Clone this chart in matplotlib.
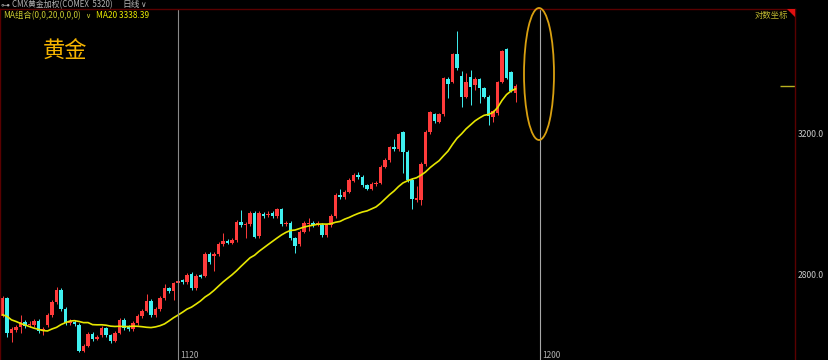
import matplotlib.pyplot as plt
import pandas as pd
from matplotlib.patches import Ellipse, Polygon

plt.rcParams['font.family'] = ['Noto Sans CJK SC', 'DejaVu Sans']

# daily candles (price units)
opens = [2691, 2737, 2648, 2655, 2663, 2676, 2668, 2668, 2678, 2655,
         2668, 2694, 2726, 2758, 2709, 2673, 2676, 2668, 2604, 2616,
         2645, 2634, 2642, 2660, 2642, 2629, 2649, 2681, 2664, 2658,
         2673, 2691, 2704, 2729, 2694, 2708, 2738, 2762, 2755, 2776,
         2784, 2778, 2799, 2764, 2797, 2796, 2853, 2848, 2854, 2880,
         2890, 2884, 2892, 2942, 2933, 2936, 2966, 2903, 2963, 2960,
         2966, 2958, 2977, 2936, 2939, 2896, 2881, 2914, 2936, 2939,
         2934, 2933, 2905, 2933, 2958, 3018, 3011, 3027, 3059, 3075,
         3070, 3046, 3036, 3049, 3053, 3100, 3119, 3157, 3152, 3202,
         3144, 3061, 3003, 3003, 3108, 3203, 3257, 3235, 3257, 3368,
         3359, 3448, 3378, 3312, 3373, 3349, 3367, 3338, 3312, 3249,
         3260, 3359, 3464, 3389, 3325]
closes = [2737, 2648, 2658, 2663, 2676, 2666, 2671, 2678, 2653, 2659,
          2694, 2726, 2758, 2709, 2673, 2678, 2671, 2604, 2616, 2645,
          2633, 2638, 2660, 2642, 2629, 2649, 2681, 2660, 2659, 2674,
          2691, 2704, 2729, 2694, 2708, 2738, 2762, 2755, 2776, 2782,
          2778, 2797, 2764, 2796, 2793, 2853, 2833, 2854, 2880, 2890,
          2884, 2892, 2942, 2933, 2936, 2966, 2901, 2966, 2958, 2965,
          2958, 2977, 2936, 2939, 2896, 2876, 2914, 2939, 2939, 2933,
          2938, 2905, 2933, 2958, 3018, 3011, 3027, 3061, 3075, 3070,
          3046, 3036, 3049, 3053, 3100, 3119, 3157, 3152, 3196, 3144,
          3061, 3005, 3009, 3108, 3204, 3263, 3238, 3257, 3370, 3351,
          3448, 3402, 3312, 3357, 3342, 3367, 3338, 3312, 3252, 3267,
          3357, 3458, 3372, 3331, 3346]
highs = [2742, 2741, 2662, 2668, 2693, 2681, 2678, 2684, 2683, 2664,
         2698, 2731, 2766, 2763, 2714, 2684, 2680, 2673, 2620, 2650,
         2651, 2642, 2665, 2664, 2646, 2653, 2686, 2686, 2668, 2678,
         2696, 2709, 2748, 2734, 2713, 2743, 2774, 2767, 2780, 2787,
         2788, 2803, 2805, 2800, 2801, 2858, 2858, 2858, 2885, 2911,
         2894, 2896, 2947, 2975, 2941, 2971, 2971, 2972, 2970, 2972,
         2972, 2982, 2981, 2944, 2944, 2900, 2919, 2944, 2953, 2944,
         2943, 2938, 2937, 2963, 3023, 3035, 3032, 3066, 3080, 3084,
         3075, 3050, 3054, 3058, 3105, 3124, 3162, 3182, 3201, 3206,
         3149, 3066, 3043, 3112, 3209, 3268, 3262, 3262, 3376, 3373,
         3453, 3524, 3394, 3386, 3397, 3375, 3372, 3343, 3317, 3272,
         3362, 3463, 3469, 3394, 3351]
lows = [2688, 2638, 2625, 2651, 2648, 2660, 2662, 2663, 2648, 2643,
        2662, 2689, 2722, 2703, 2668, 2668, 2666, 2600, 2600, 2612,
        2628, 2630, 2637, 2637, 2624, 2625, 2645, 2655, 2654, 2652,
        2669, 2687, 2700, 2689, 2689, 2703, 2733, 2750, 2732, 2771,
        2773, 2773, 2758, 2759, 2789, 2791, 2828, 2808, 2849, 2875,
        2880, 2880, 2887, 2928, 2897, 2931, 2896, 2898, 2953, 2955,
        2952, 2953, 2931, 2931, 2891, 2856, 2876, 2910, 2916, 2928,
        2929, 2900, 2900, 2928, 2953, 3006, 3006, 3022, 3054, 3065,
        3041, 3031, 3031, 3044, 3048, 3095, 3114, 3147, 3147, 3081,
        3056, 2978, 2998, 2989, 3103, 3198, 3232, 3230, 3252, 3308,
        3355, 3396, 3281, 3307, 3285, 3333, 3291, 3307, 3224, 3233,
        3255, 3354, 3367, 3326, 3295]
# MA20 values for the first 19 bars (need history before the window)
ma_head = [2694, 2690, 2681, 2677, 2672, 2668, 2664, 2660, 2657, 2654,
           2653, 2658, 2662, 2669, 2674, 2678, 2679, 2677, 2674]
y_ticks = [2800, 3200]
x_labels = ["1120", "1200"]

df = pd.DataFrame({"open": opens, "high": highs, "low": lows, "close": closes})
ma20 = df["close"].rolling(20).mean()
ma20.iloc[:len(ma_head)] = ma_head

RED = "#ff3b3b"
CYAN = "#3ff0f0"
colors = [RED if c >= o else CYAN for o, c in zip(df["open"], df["close"])]

fig = plt.figure(figsize=(8.29, 3.6), dpi=100, facecolor="black")
ax = fig.add_axes([0, 0, 795 / 829, 351 / 360])
ax.set_facecolor("black")
ax.set_yscale("log")
ax.set_ylim(2581, 3599)
ax.set_xlim(-0.556, 176.1)

x = df.index.values
ax.vlines(x, df["low"], df["high"], colors=colors, linewidth=0.7)
body_lo = df[["open", "close"]].min(axis=1)
body_h = (df["close"] - df["open"]).abs().clip(lower=3)
ax.bar(x, body_h, bottom=body_lo, width=0.8, color=colors, linewidth=0)

ax.plot(x, ma20, color="#e6e600", linewidth=1.2)

# cursor / date lines
ax.axvline(39, color="#8a8a8a", linewidth=0.8)
ax.axvline(119.44, color="#a8a8a8", linewidth=0.8)
# last price marker at right edge
ax.hlines(closes[-1], 172.8, 176.1, color="#b8b020", linewidth=1.0)

ax.set_xticks([])
ax.yaxis.tick_right()
ax.set_yticks(y_ticks)
ax.set_yticklabels([f"{v:.1f}" for v in y_ticks])
ax.minorticks_off()
ax.tick_params(axis="y", length=0, pad=2, labelsize=6.2, labelcolor="#c8c8c8")
for s in ["left", "top", "right"]:
    ax.spines[s].set_color("#5a0000")
    ax.spines[s].set_linewidth(1.0)
ax.spines["bottom"].set_visible(False)

W, H = 829, 360


def ftext(px, py, s, **kw):
    fig.text(px / W, 1 - py / H, s, **kw)


ftext(1, 4.5, "⊶", color="#b0b0b0", fontsize=6.5, va="center", family="DejaVu Sans")
ftext(12, 4.5, "CMX黄金加权(COMEX  5320)", color="#b4b4b4", fontsize=5.7, va="center")
ftext(122, 4.5, "日线", color="#b4b4b4", fontsize=6.3, va="center")
ftext(140, 4.5, "∨", color="#b4b4b4", fontsize=5.5, va="center", family="DejaVu Sans")
ftext(3, 15.5, "MA组合(0,0,20,0,0,0)", color="#c8c830", fontsize=6, va="center")
ftext(85, 16, "∨", color="#c8c830", fontsize=5, va="center", family="DejaVu Sans")
ftext(96, 15.5, "MA20 3338.39", color="#e8e800", fontsize=6, va="center")
ftext(43, 51, "黄金", color="#f5b400", fontsize=16, va="center")
ftext(755, 15.5, "对数坐标", color="#c0b830", fontsize=6, va="center")
ftext(180, 355.5, x_labels[0], color="#b0b0b0", fontsize=6, va="center")
ftext(542, 355.5, x_labels[1], color="#b0b0b0", fontsize=6, va="center")

fig.patches.append(Ellipse((539 / W, 1 - 74 / H), 30 / W, 132 / H,
                           transform=fig.transFigure, fill=False,
                           edgecolor="#d9a010", linewidth=1.3))
fig.patches.append(Polygon([(787 / W, 1 - 9 / H), (795 / W, 1 - 9 / H), (795 / W, 1 - 17 / H)],
                           closed=True, transform=fig.transFigure,
                           facecolor="#e01010", edgecolor="none"))

fig.savefig("out.png", dpi=100, facecolor="black")
